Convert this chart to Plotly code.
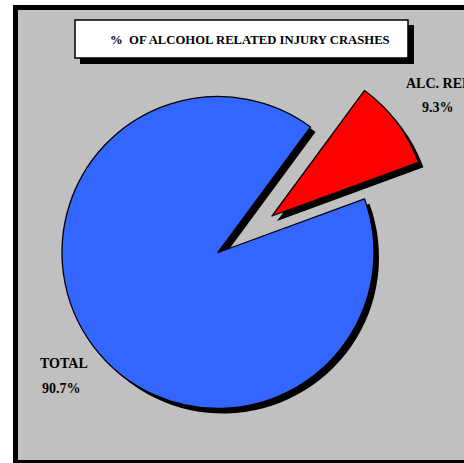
import plotly.graph_objects as go

# ---- data ----
labels = ["ALC. REL", "TOTAL"]
values = [9.3, 90.7]
slice_colors = ["#FF0000", "#3366FF"]
title_text = "%  OF ALCOHOL RELATED INJURY CRASHES"

W, H = 464, 463
OFF = 0  # page body margin removed via post_script
FONT = "Liberation Serif, Times New Roman, serif"

def fx(x):
    return (x - OFF) / W

def fy(y):
    return 1 - (y - OFF) / H

def dom(cx, cy, r):
    return dict(x=[fx(cx - r), fx(cx + r)], y=[fy(cy + r), fy(cy - r)])

CX, CY, R = 218, 252.5, 156
RCX, RCY = 272, 216  # exploded slice centre
SH = 5  # shadow offset

clear = "rgba(0,0,0,0)"

def pie(cx, cy, show_idx, color_override=None):
    cols = []
    widths = []
    for i, c in enumerate(slice_colors):
        if i == show_idx:
            cols.append(color_override or c)
            widths.append(0 if color_override else 1.3)
        else:
            cols.append(clear)
            widths.append(0)
    return go.Pie(
        labels=labels, values=values, sort=False, direction="clockwise",
        rotation=36.4, domain=dom(cx, cy, R), textinfo="none",
        hoverinfo="skip", showlegend=False,
        marker=dict(colors=cols, line=dict(color="black", width=widths)),
    )

fig = go.Figure()
# shadows
fig.add_trace(pie(CX + SH, CY + SH, 1, "black"))
fig.add_trace(pie(RCX + SH, RCY + SH, 0, "black"))
# slices
fig.add_trace(pie(CX, CY, 1))
fig.add_trace(pie(RCX, RCY, 0))

shapes = [
    # frame
    dict(type="rect", xref="paper", yref="paper", x0=fx(13), x1=fx(480), y0=fy(466), y1=fy(5),
         fillcolor="black", line=dict(width=0), layer="below"),
    dict(type="rect", xref="paper", yref="paper", x0=fx(18), x1=fx(475), y0=fy(460), y1=fy(10),
         fillcolor="#C0C0C0", line=dict(width=0), layer="below"),
    # title box shadow and box
    dict(type="rect", xref="paper", yref="paper", x0=fx(80), x1=fx(414), y0=fy(64), y1=fy(25),
         fillcolor="black", line=dict(width=0), layer="below"),
    dict(type="rect", xref="paper", yref="paper", x0=fx(75), x1=fx(408), y0=fy(58), y1=fy(20),
         fillcolor="white", line=dict(color="black", width=1.5), layer="below"),
]

def ann(text, x, y, size):
    return dict(text="<b>%s</b>" % text, x=fx(x), y=fy(y), xref="paper", yref="paper",
                showarrow=False, xanchor="center", yanchor="middle",
                font=dict(family=FONT, size=size, color="black"))

annotations = [
    ann(title_text, 250, 40, 12.7),
    ann(labels[0], 438, 84, 14),
    ann("%.1f%%" % values[0], 438, 107, 14),
    ann(labels[1], 64, 363, 14),
    ann("%.1f%%" % values[1], 62, 388, 14),
]

fig.update_layout(
    width=W, height=H, margin=dict(l=0, r=0, t=0, b=0),
    paper_bgcolor="white", plot_bgcolor="white",
    shapes=shapes, annotations=annotations,
)

fig.write_html(
    "out.html",
    config={"displayModeBar": False},
    post_script="document.body.style.margin='0px'; document.body.style.overflow='hidden';",
)
